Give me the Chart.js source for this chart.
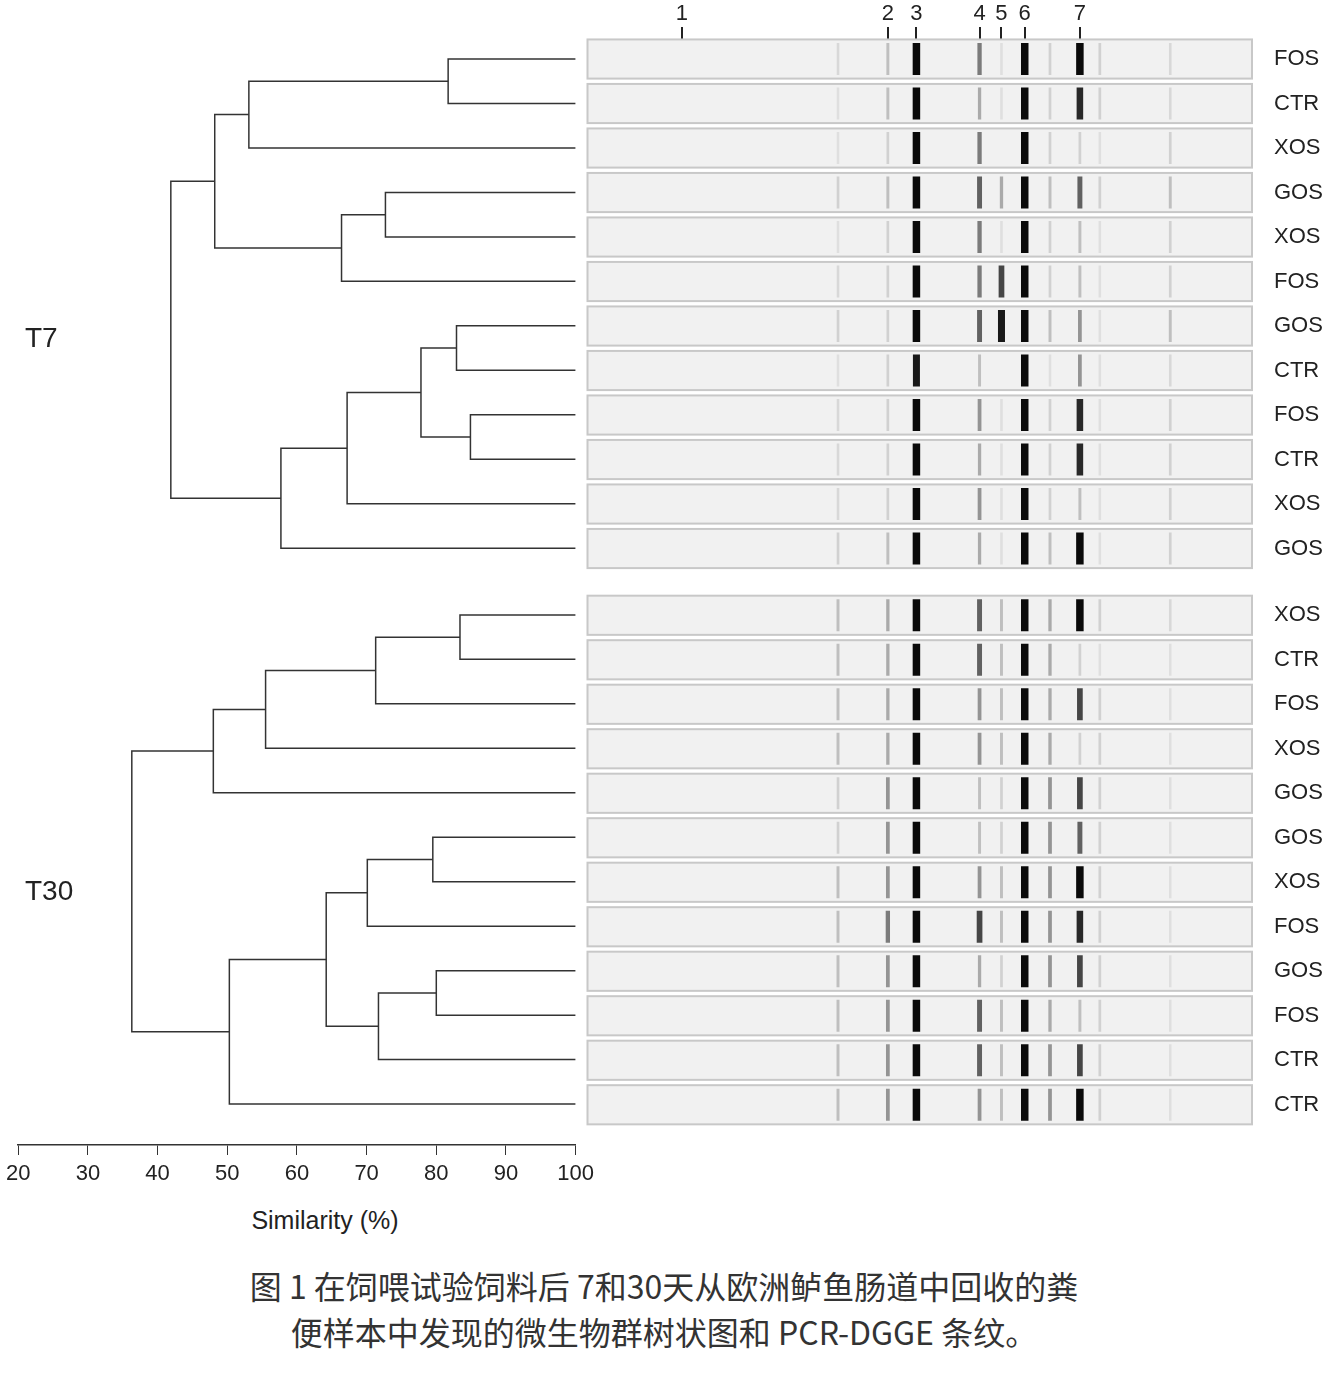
<!DOCTYPE html>
<html>
<head>
<meta charset="utf-8">
<script src="https://cdn.jsdelivr.net/npm/chart.js@4.4.0/dist/chart.umd.min.js"></script>
<style>
  body { margin: 0; background: #fff; }
  #wrap { position: relative; width: 1328px; height: 1392px; background: #fff; overflow: hidden; }
  canvas { position: absolute; }
  .grp { position: absolute; font: 28px "Liberation Sans", Arial, sans-serif; color: #222; }
  #xtitle { position: absolute; left: 0; width: 650px; top: 1206px; text-align: center; font: 25px "Liberation Sans", Arial, sans-serif; color: #222; }
  #caption { position: absolute; left: 0; width: 1328px; top: 1262px; text-align: center; font: 32px "Noto Sans CJK SC", sans-serif; color: #333; line-height: 46px; }
</style>
</head>
<body>
<div id="wrap">
  <canvas id="dendro"></canvas>
  <canvas id="gel"></canvas>
  <div class="grp" style="left:25px;top:322px">T7</div>
  <div class="grp" style="left:25px;top:875px">T30</div>
  <div id="xtitle">Similarity (%)</div>
  <div id="caption">图 1 在饲喂试验饲料后 7和30天从欧洲鲈鱼肠道中回收的粪<br>便样本中发现的微生物群树状图和 PCR-DGGE 条纹。</div>
</div>
<script>
// ---- data ----
const sampleLabels = ['FOS','CTR','XOS','GOS','XOS','FOS','GOS','CTR','FOS','CTR','XOS','GOS',
                      'XOS','CTR','FOS','XOS','GOS','GOS','XOS','FOS','GOS','FOS','CTR','CTR'];
// row position: T30 block sits half a row lower
const rowY = sampleLabels.map((_, i) => i < 12 ? i : i + 0.5);

// dendrogram merges (node ids 0..23 are leaves, new nodes start at 24)
const mergeLeft   = [0, 24, 3, 26, 25, 6, 8, 29, 31, 32, 28,   12, 35, 36, 37, 17, 39, 20, 41, 40, 43, 38];
const mergeRight  = [1, 2, 4, 5, 27, 7, 9, 30, 10, 11, 33,     13, 14, 15, 16, 18, 19, 21, 22, 42, 23, 44];
const mergeHeight = [81.7, 53.1, 72.7, 66.4, 48.2, 82.9, 84.9, 77.8, 67.2, 57.7, 41.9,
                     83.4, 71.3, 55.5, 48.0, 79.5, 70.1, 80.0, 71.7, 64.2, 50.3, 36.3];
const similarityTicks = [20, 30, 40, 50, 60, 70, 80, 90, 100];

// DGGE gel: band positions (0-100 along lane) and intensities per lane
const bandPos = [37.7, 45.2, 49.5, 59.0, 62.3, 65.8, 69.6, 74.1, 77.1, 87.7];
const laneIntensity = [
  [0.15,0.3,1,0.6,0.1,1,0.2,1,0.2,0.15],
  [0.1,0.3,1,0.4,0.1,1,0.2,0.9,0.2,0.15],
  [0.1,0.2,1,0.6,0,1,0.2,0.2,0.1,0.2],
  [0.2,0.3,1,0.7,0.4,1,0.3,0.7,0.2,0.3],
  [0.1,0.2,1,0.6,0.1,1,0.2,0.3,0.1,0.2],
  [0.15,0.2,1,0.6,0.8,1,0.2,0.3,0.1,0.2],
  [0.2,0.2,1,0.7,0.95,1,0.3,0.5,0.1,0.3],
  [0.1,0.2,0.95,0.3,0,1,0.1,0.5,0.1,0.15],
  [0.15,0.2,1,0.5,0.1,1,0.2,0.9,0.1,0.2],
  [0.15,0.2,1,0.4,0.1,1,0.2,0.9,0.1,0.2],
  [0.15,0.2,1,0.5,0.1,1,0.2,0.3,0.1,0.2],
  [0.2,0.3,1,0.4,0.1,1,0.3,1,0.1,0.2],
  [0.3,0.4,1,0.7,0.3,1,0.4,1,0.2,0.15],
  [0.3,0.4,1,0.7,0.3,1,0.4,0.2,0.1,0.1],
  [0.3,0.4,1,0.5,0.3,1,0.4,0.8,0.2,0.1],
  [0.3,0.4,1,0.5,0.3,1,0.4,0.2,0.2,0.1],
  [0.2,0.5,1,0.3,0.2,1,0.5,0.8,0.2,0.1],
  [0.2,0.5,1,0.3,0.2,1,0.5,0.7,0.2,0.1],
  [0.3,0.5,1,0.5,0.3,1,0.5,1,0.2,0.1],
  [0.3,0.6,1,0.8,0.3,1,0.5,0.9,0.2,0.1],
  [0.3,0.5,1,0.4,0.2,1,0.5,0.8,0.2,0.1],
  [0.3,0.5,1,0.7,0.3,1,0.4,0.3,0.2,0.1],
  [0.3,0.5,1,0.7,0.3,1,0.5,0.8,0.2,0.1],
  [0.3,0.5,1,0.5,0.3,1,0.5,1,0.2,0.1]
];
const markerPos = [14.2, 45.2, 49.5, 59.0, 62.3, 65.8, 74.1];
const markerLabels = ['1', '2', '3', '4', '5', '6', '7'];

// ---- dendrogram ----
const nodeH = rowY.map(() => 100);
const nodeY = rowY.slice();
const dendroSets = [];
mergeLeft.forEach((a, k) => {
  const b = mergeRight[k], h = mergeHeight[k];
  dendroSets.push({
    data: [{x: nodeH[a], y: nodeY[a]}, {x: h, y: nodeY[a]}, {x: h, y: nodeY[b]}, {x: nodeH[b], y: nodeY[b]}],
    borderColor: '#333', borderWidth: 1.5, pointRadius: 0, tension: 0, fill: false
  });
  nodeH.push(h);
  nodeY.push((nodeY[a] + nodeY[b]) / 2);
});

const dc = document.getElementById('dendro');
dc.width = 600; dc.height = 1200;
dc.style.left = '0px'; dc.style.top = '0px';
new Chart(dc, {
  type: 'line',
  data: { datasets: dendroSets },
  options: {
    responsive: false, animation: false,
    layout: { padding: { left: 15, right: 20, top: 39, bottom: 5 } },
    plugins: { legend: { display: false }, tooltip: { enabled: false } },
    scales: {
      x: {
        type: 'linear', min: 20, max: 100,
        afterBuildTicks: s => { s.ticks = similarityTicks.map(v => ({value: v})); },
        afterFit: s => { s.height = 50; },
        grid: { drawOnChartArea: false, tickLength: 10, color: '#333' },
        border: { color: '#333', width: 1.5 },
        ticks: { color: '#222', font: { size: 22, family: 'Liberation Sans' }, padding: 6 }
      },
      y: { type: 'linear', reverse: true, min: -0.45, max: 24.42, display: false }
    }
  }
});

// ---- gel ----
const bandPoints = [];
laneIntensity.forEach((row, i) => {
  row.forEach((v, j) => { if (v > 0) bandPoints.push({x: bandPos[j], y: rowY[i], v: v}); });
});

const laneBg = {
  id: 'laneBg',
  beforeDatasetsDraw(chart) {
    const {ctx, scales: {x, y}} = chart;
    ctx.save();
    rowY.forEach(r => {
      const t = y.getPixelForValue(r - 0.44), b = y.getPixelForValue(r + 0.44);
      ctx.fillStyle = '#f1f1f1';
      ctx.fillRect(x.left, t, x.right - x.left, b - t);
      ctx.strokeStyle = '#c8c8c8';
      ctx.lineWidth = 2;
      ctx.strokeRect(x.left, t, x.right - x.left, b - t);
    });
    ctx.restore();
  }
};

const gc = document.getElementById('gel');
gc.width = 764; gc.height = 1152;
gc.style.left = '564px'; gc.style.top = '0px';
new Chart(gc, {
  type: 'scatter',
  data: { datasets: [{
    data: bandPoints,
    pointStyle: 'line', rotation: 90, radius: 16,
    borderColor: c => { const g = Math.round(232 - 222 * Math.pow(c.raw.v, 1.4)); return `rgb(${g},${g},${g})`; },
    borderWidth: c => 2.5 + 5 * c.raw.v * c.raw.v
  }] },
  options: {
    responsive: false, animation: false,
    layout: { padding: { left: 8, right: 0, top: 0, bottom: 0 } },
    plugins: { legend: { display: false }, tooltip: { enabled: false } },
    scales: {
      x: { type: 'linear', min: 0, max: 100, display: false },
      xTop: {
        type: 'linear', position: 'top', min: 0, max: 100,
        afterBuildTicks: s => { s.ticks = markerPos.map(v => ({value: v})); },
        afterFit: s => { s.height = 39; },
        grid: { drawOnChartArea: false, tickLength: 12, color: '#222', lineWidth: 2 },
        border: { display: false },
        ticks: { color: '#222', padding: 0, maxRotation: 0, autoSkip: false,
                 font: { size: 22, family: 'Liberation Sans' },
                 callback: (v, i) => markerLabels[i] }
      },
      y: {
        type: 'linear', reverse: true, min: -0.45, max: 23.95, position: 'right',
        afterBuildTicks: s => { s.ticks = rowY.map(v => ({value: v})); },
        afterFit: s => { s.width = 76; },
        grid: { display: false }, border: { display: false },
        ticks: { color: '#222', padding: 14, autoSkip: false,
                 font: { size: 22, family: 'Liberation Sans' },
                 callback: (v, i) => sampleLabels[i] }
      }
    }
  },
  plugins: [laneBg]
});
</script>
</body>
</html>
